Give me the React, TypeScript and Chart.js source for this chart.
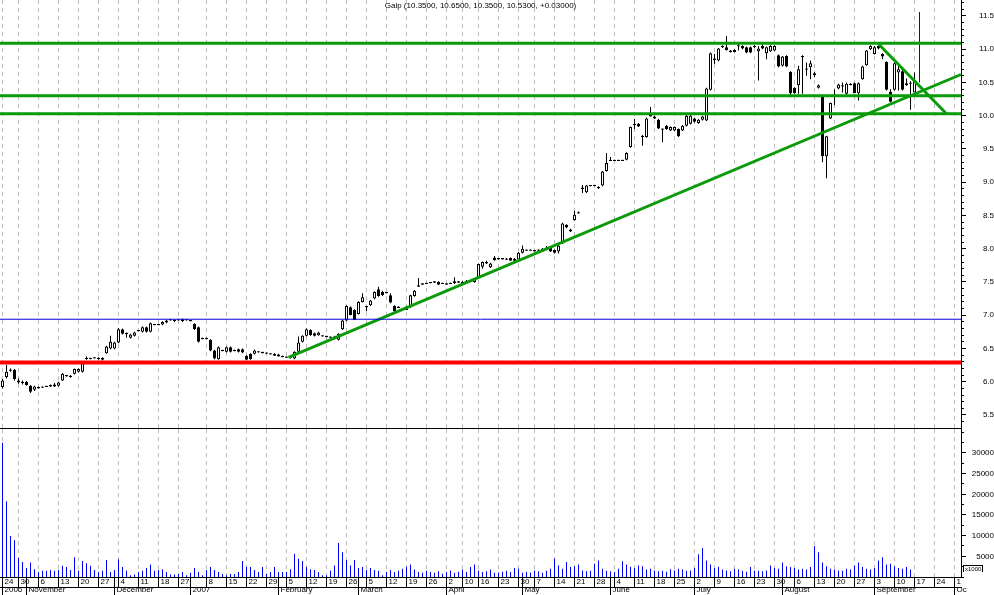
import React, { useEffect, useRef } from "react";
import { Chart, registerables } from "chart.js";

Chart.register(...registerables);

// ---------------- data ----------------
const TITLE = "Galp (10.3500, 10.6500, 10.3500, 10.5300, +0.03000)";
const FIRST_DAY = "2006-10-24";
const LAST_AXIS_DAY = "2007-10-01";
const HOLIDAYS = ["2006-12-25", "2006-12-26", "2007-01-01", "2007-04-06", "2007-04-09", "2007-05-01"];

// weekly date ticks (top row of the date axis)
const WEEK_STARTS = [
  "2006-10-24", "2006-10-30", "2006-11-06", "2006-11-13", "2006-11-20", "2006-11-27",
  "2006-12-04", "2006-12-11", "2006-12-18", "2006-12-27", "2007-01-08", "2007-01-15",
  "2007-01-22", "2007-01-29", "2007-02-05", "2007-02-12", "2007-02-19", "2007-02-26",
  "2007-03-05", "2007-03-12", "2007-03-19", "2007-03-26", "2007-04-02", "2007-04-10",
  "2007-04-16", "2007-04-23", "2007-04-30", "2007-05-07", "2007-05-14", "2007-05-21",
  "2007-05-28", "2007-06-04", "2007-06-11", "2007-06-18", "2007-06-25", "2007-07-02",
  "2007-07-09", "2007-07-16", "2007-07-23", "2007-07-30", "2007-08-06", "2007-08-13",
  "2007-08-20", "2007-08-27", "2007-09-03", "2007-09-10", "2007-09-17", "2007-09-24",
  "2007-10-01",
];
// month / year labels (bottom row of the date axis)
const MONTH_STARTS: [string, string][] = [
  ["2006-10-24", "2006"], ["2006-11-01", "November"], ["2006-12-01", "December"],
  ["2007-01-02", "2007"], ["2007-02-01", "February"], ["2007-03-01", "March"],
  ["2007-04-02", "April"], ["2007-05-02", "May"], ["2007-06-01", "June"],
  ["2007-07-02", "July"], ["2007-08-01", "August"], ["2007-09-03", "September"],
  ["2007-10-01", "Oc"],
];

// daily candles: [open, high, low, close]
const CANDLES: number[][] = [
  [5.92,6.04,5.90,6.02],[6.07,6.25,6.05,6.15],[6.18,6.20,6.15,6.17],[6.18,6.19,6.02,6.04],[6.02,6.05,5.97,5.99],[6.00,6.02,5.96,5.98],[6.00,6.01,5.94,5.95],[5.94,5.95,5.83,5.85],[5.88,5.94,5.86,5.93],[5.91,5.93,5.90,5.91],
  [5.92,5.93,5.91,5.92],[5.93,5.94,5.92,5.93],[5.93,5.96,5.92,5.95],[5.96,5.98,5.92,5.93],[5.94,6.00,5.93,5.99],[6.02,6.13,6.01,6.12],[6.09,6.10,6.08,6.09],[6.09,6.10,6.06,6.07],[6.12,6.20,6.11,6.19],[6.15,6.20,6.14,6.19],
  [6.15,6.30,6.14,6.29],[6.34,6.38,6.33,6.36],[6.35,6.36,6.34,6.35],[6.36,6.37,6.35,6.36],[6.34,6.37,6.33,6.36],[6.33,6.37,6.32,6.36],[6.43,6.54,6.42,6.53],[6.50,6.69,6.49,6.60],[6.50,6.60,6.49,6.59],[6.59,6.81,6.58,6.79],
  [6.79,6.80,6.71,6.72],[6.73,6.74,6.66,6.72],[6.66,6.72,6.65,6.71],[6.69,6.75,6.68,6.74],[6.77,6.78,6.76,6.77],[6.75,6.83,6.74,6.82],[6.82,6.83,6.74,6.75],[6.75,6.89,6.74,6.88],[6.86,6.87,6.85,6.86],[6.86,6.87,6.85,6.86],
  [6.86,6.91,6.85,6.90],[6.89,6.93,6.88,6.92],[6.93,6.94,6.92,6.93],[6.93,6.94,6.90,6.91],[6.93,6.94,6.92,6.93],[6.91,6.95,6.90,6.94],[6.93,6.94,6.92,6.93],[6.92,6.93,6.91,6.92],[6.87,6.88,6.78,6.79],[6.82,6.83,6.59,6.60],
  [6.65,6.66,6.64,6.65],[6.65,6.66,6.64,6.65],[6.63,6.64,6.46,6.47],[6.47,6.48,6.34,6.35],[6.34,6.53,6.33,6.52],[6.47,6.48,6.46,6.47],[6.45,6.53,6.44,6.52],[6.52,6.53,6.44,6.45],[6.47,6.48,6.46,6.47],[6.49,6.50,6.44,6.45],
  [6.49,6.50,6.43,6.44],[6.39,6.40,6.33,6.33],[6.42,6.43,6.33,6.34],[6.42,6.48,6.41,6.47],[6.45,6.46,6.44,6.45],[6.44,6.45,6.43,6.44],[6.43,6.44,6.42,6.43],[6.42,6.43,6.41,6.42],[6.42,6.43,6.39,6.39],[6.41,6.42,6.38,6.38],
  [6.38,6.39,6.37,6.38],[6.37,6.38,6.36,6.37],[6.36,6.39,6.35,6.38],[6.35,6.46,6.34,6.45],[6.45,6.68,6.44,6.59],[6.60,6.70,6.59,6.69],[6.69,6.80,6.68,6.79],[6.78,6.79,6.69,6.70],[6.73,6.74,6.68,6.69],[6.70,6.75,6.69,6.74],
  [6.69,6.70,6.68,6.69],[6.68,6.69,6.67,6.68],[6.67,6.68,6.66,6.67],[6.68,6.69,6.64,6.64],[6.63,6.73,6.62,6.72],[6.79,6.93,6.78,6.92],[6.92,7.15,6.91,7.14],[7.12,7.13,7.00,7.00],[7.08,7.09,6.93,6.93],[7.02,7.21,7.01,7.20],
  [7.20,7.33,7.19,7.27],[7.13,7.14,7.06,7.13],[7.15,7.23,7.14,7.22],[7.25,7.36,7.24,7.35],[7.39,7.43,7.28,7.29],[7.35,7.37,7.29,7.30],[7.34,7.35,7.33,7.34],[7.30,7.33,7.18,7.19],[7.14,7.15,7.05,7.06],[7.12,7.13,7.11,7.12],
  [7.09,7.10,7.08,7.09],[7.13,7.14,7.08,7.08],[7.12,7.31,7.11,7.30],[7.29,7.38,7.28,7.37],[7.44,7.56,7.43,7.44],[7.47,7.48,7.46,7.47],[7.48,7.49,7.47,7.48],[7.49,7.50,7.48,7.49],[7.50,7.51,7.49,7.50],[7.50,7.51,7.46,7.46],
  [7.48,7.49,7.47,7.48],[7.47,7.48,7.46,7.47],[7.48,7.49,7.47,7.48],[7.48,7.57,7.47,7.51],[7.50,7.51,7.49,7.50],[7.50,7.51,7.47,7.47],[7.52,7.53,7.48,7.48],[7.51,7.52,7.50,7.51],[7.50,7.56,7.49,7.55],[7.56,7.78,7.55,7.77],
  [7.73,7.81,7.70,7.80],[7.79,7.82,7.77,7.79],[7.72,7.79,7.71,7.78],[7.87,7.89,7.82,7.83],[7.85,7.86,7.84,7.85],[7.85,7.86,7.84,7.85],[7.85,7.86,7.83,7.84],[7.86,7.87,7.82,7.82],[7.85,7.86,7.81,7.82],[7.84,7.95,7.83,7.94],
  [7.94,8.05,7.93,8.00],[7.98,7.99,7.97,7.98],[7.98,7.99,7.97,7.98],[7.97,7.98,7.96,7.97],[7.98,7.99,7.97,7.98],[7.96,8.01,7.95,8.00],[8.01,8.04,8.00,8.01],[8.01,8.02,7.95,7.96],[7.98,7.99,7.93,7.94],[7.96,8.06,7.93,8.05],
  [8.08,8.39,8.07,8.38],[8.36,8.37,8.31,8.32],[8.29,8.30,8.25,8.26],[8.43,8.57,8.42,8.51],[8.54,8.56,8.53,8.54],[8.90,8.96,8.84,8.92],[8.85,8.96,8.84,8.95],[8.95,8.96,8.94,8.95],[8.95,8.96,8.94,8.95],[8.93,8.94,8.90,8.91],
  [8.95,9.17,8.94,9.16],[9.17,9.44,9.16,9.29],[9.33,9.38,9.32,9.33],[9.33,9.34,9.32,9.33],[9.33,9.34,9.32,9.33],[9.33,9.34,9.32,9.33],[9.34,9.45,9.33,9.44],[9.53,9.84,9.52,9.83],[9.87,9.95,9.80,9.87],[9.88,9.89,9.83,9.84],
  [9.68,9.71,9.55,9.70],[9.68,9.97,9.67,9.96],[10.00,10.13,9.99,10.00],[9.99,10.00,9.95,9.96],[9.94,9.95,9.80,9.81],[9.80,9.81,9.60,9.80],[9.85,9.86,9.79,9.80],[9.78,9.84,9.77,9.83],[9.78,9.84,9.77,9.83],[9.80,9.81,9.68,9.69],
  [9.78,9.86,9.77,9.85],[9.85,10.01,9.84,10.00],[9.88,10.01,9.87,10.00],[9.96,9.97,9.90,9.91],[9.89,9.95,9.88,9.94],[9.94,10.00,9.93,9.99],[9.93,10.42,9.92,10.41],[10.39,10.95,10.38,10.94],[10.85,10.93,10.78,10.85],[10.83,11.02,10.82,11.01],
  [11.04,11.06,11.02,11.04],[11.03,11.20,10.98,10.99],[10.96,10.99,10.95,10.98],[10.96,11.00,10.95,10.99],[11.05,11.10,10.98,11.05],[11.05,11.06,11.00,11.01],[11.03,11.04,10.94,10.95],[11.03,11.04,10.94,10.95],[11.04,11.06,11.02,11.04],[10.97,11.05,10.53,11.01],
  [11.05,11.08,11.00,11.01],[10.94,11.04,10.85,11.03],[10.97,11.06,10.96,11.05],[10.98,11.06,10.97,11.05],[10.91,10.92,10.73,10.74],[10.75,10.90,10.74,10.89],[10.90,10.91,10.73,10.74],[10.66,10.67,10.28,10.34],[10.42,10.43,10.33,10.34],[10.46,10.75,10.33,10.70],
  [10.89,10.91,10.33,10.89],[10.70,10.80,10.60,10.70],[10.73,10.83,10.55,10.79],[10.64,10.66,10.58,10.61],[10.42,10.47,10.41,10.46],[10.29,10.30,9.30,9.39],[9.39,9.70,9.06,9.69],[9.96,10.20,9.95,10.19],[10.31,10.40,10.16,10.31],[10.41,10.48,10.40,10.47],
  [10.45,10.50,10.35,10.45],[10.33,10.50,10.32,10.48],[10.47,10.49,10.46,10.47],[10.49,10.50,10.34,10.34],[10.34,10.50,10.23,10.49],[10.55,10.75,10.54,10.74],[10.76,10.99,10.75,10.98],[11.00,11.06,10.99,11.05],[10.93,11.05,10.92,11.03],[11.05,11.07,11.00,11.01],
  [10.93,10.94,10.85,10.89],[10.81,10.82,10.38,10.39],[10.36,10.40,10.20,10.21],[10.39,10.80,10.38,10.79],[10.65,10.78,10.38,10.70],[10.67,10.72,10.38,10.39],[10.49,10.56,10.45,10.46],[10.50,10.52,10.09,10.48],[10.35,10.65,10.35,10.53],
];

// daily volume, thousands
const VOLUME_K: number[] = [
  32.5,18.3,9.9,8.9,4.6,3.6,2.2,3.5,1.9,1.2, 1.5,1.5,1.7,1.5,1.7,2.7,2.4,1.7,4.8,1.5,
  3.9,3.3,2.7,1.7,1.2,1.5,4.1,1.2,1.7,4.3, 2.4,1.5,0.4,0.6,1.2,1.5,2.2,3.0,1.5,1.7,
  1.9,1.2,0.6,0.6,0.7,1.2,0.4,1.0,2.2,1.2, 0.4,1.7,2.4,1.7,1.2,0.7,0.4,0.7,0.7,1.2,
  3.9,2.4,2.4,1.7,1.2,2.4,0.7,1.2,2.4,1.2, 1.2,1.2,1.9,5.6,4.4,3.9,2.4,1.9,1.7,1.2,
  0.4,0.4,1.5,2.8,8.2,6.0,4.1,2.8,4.1,2.2, 2.4,1.7,2.2,1.7,1.5,0.4,1.2,1.7,1.2,1.5,
  2.0,2.5,3.0,1.8,1.2,1.0,1.5,1.2,1.0,1.4, 0.8,1.2,1.6,1.0,1.3,1.8,1.2,2.4,3.0,1.5,
  1.2,1.4,1.8,1.0,1.1,1.3,1.5,1.2,2.2,2.0, 1.0,1.2,1.1,1.6,1.4,1.0,1.5,2.0,4.5,2.8,
  2.0,3.6,2.4,2.6,3.0,1.6,1.4,1.5,3.2,4.0, 2.0,1.5,1.4,1.2,2.0,3.8,3.0,2.5,2.2,2.8,
  2.6,1.8,2.0,1.6,1.4,1.5,1.3,1.9,1.6,2.0, 1.8,1.5,1.6,2.2,5.5,7.0,4.0,3.0,2.2,2.5,
  1.8,1.6,1.4,2.0,1.8,1.5,1.3,2.4,1.6,1.5, 1.4,1.6,2.8,2.2,2.0,3.5,2.6,2.4,2.2,1.8,
  2.0,1.8,2.4,7.5,6.0,3.5,2.6,2.0,1.8,1.6, 1.5,2.0,1.8,2.8,3.5,2.4,2.0,1.8,2.2,4.0,
  4.8,3.0,3.2,2.6,2.2,2.0,2.4,1.8,
];

// drawn studies: [dayIndex, price]
const GREEN_LEVELS = [11.09, 10.30, 10.03];
const RED_LEVEL = 6.29;
const BLUE_LEVEL = 6.94;
const TREND_UP = [[71.5, 6.365], [239.6, 10.62]];
const TREND_DOWN = [[219, 11.08], [236.0, 10.03]];
const MARKER = [[229.25, 10.5], [229.25, 11.56]];

const PRICE_LABELS = [5.5, 6.0, 6.5, 7.0, 7.5, 8.0, 8.5, 9.0, 9.5, 10.0, 10.5, 11.0, 11.5];
const VOLUME_LABELS = [5000, 10000, 15000, 20000, 25000, 30000];

// ---------------- axis geometry ----------------
const X_MIN = -0.625;
const X_MAX = 239.625;
const P_MIN = 5.3045;
const P_MAX = 11.7406;
const V_MAX = 35800;
const GRID = "#bcbcbc";
const FONT = '"Liberation Sans", Arial, sans-serif';

function tradingDays(): string[] {
  const out: string[] = [];
  const d = new Date(FIRST_DAY + "T12:00:00Z");
  const end = new Date(LAST_AXIS_DAY + "T12:00:00Z");
  while (d <= end) {
    const wd = d.getUTCDay();
    const s = d.toISOString().slice(0, 10);
    if (wd !== 0 && wd !== 6 && !HOLIDAYS.includes(s)) out.push(s);
    d.setUTCDate(d.getUTCDate() + 1);
  }
  return out;
}
const DAYS = tradingDays();
const idxOf = (s: string) => DAYS.indexOf(s);

const WEEK_IDX = WEEK_STARTS.map(idxOf);
const WEEK_SET = new Set(WEEK_IDX);
const DAY_LABEL = new Map<number, string>(WEEK_STARTS.map((s) => [idxOf(s), String(Number(s.slice(8)))]));
const MONTH_IDX = MONTH_STARTS.map(([s]) => idxOf(s));
const MONTH_LABEL = new Map<number, string>(MONTH_STARTS.map(([s, l]) => [idxOf(s), l]));
const DAY_AXIS_IDX = Array.from(new Set([...WEEK_IDX, ...MONTH_IDX])).sort((a, b) => a - b);

const stepTicks = (from: number, to: number, step: number) => {
  const t: number[] = [];
  for (let v = from; v <= to + 1e-9; v += step) t.push(Math.round(v * 1000) / 1000);
  return t;
};

const seg = (pts: number[][], color: string, width: number) => ({
  type: "line" as const,
  data: pts.map(([x, y]) => ({ x, y })),
  borderColor: color,
  borderWidth: width,
  pointRadius: 0,
  pointHoverRadius: 0,
  fill: false,
  tension: 0,
  order: 0,
  xAxisID: "x",
  yAxisID: "y",
});

const hline = (v: number, color: string, width: number) => seg([[X_MIN, v], [X_MAX, v]], color, width);

function priceConfig(): any {
  const wicks = CANDLES.map(([, h, l], i) => ({ x: i, y: [l, h] }));
  const bodies = CANDLES.map(([o, , , c], i) => {
    let lo = Math.min(o, c);
    let hi = Math.max(o, c);
    if (hi - lo < 0.02) {
      const m = (hi + lo) / 2;
      lo = m - 0.01;
      hi = m + 0.01;
    }
    return { x: i, y: [lo, hi] };
  });
  const bodyColors = CANDLES.map(([o, , , c]) => (c > o ? "#ffffff" : "#000000"));
  return {
    type: "bar",
    data: {
      datasets: [
        ...GREEN_LEVELS.map((v) => hline(v, "#0a9a0a", 3)),
        hline(RED_LEVEL, "#ff0000", 4),
        hline(BLUE_LEVEL, "#0000e0", 1),
        seg(TREND_UP, "#0a9a0a", 3),
        seg(TREND_DOWN, "#0a9a0a", 3),
        seg(MARKER, "#0000ff", 1),
        {
          type: "bar", data: bodies, backgroundColor: bodyColors, borderColor: "#000000",
          borderWidth: 1, borderSkipped: false, barThickness: 3, grouped: false, inflateAmount: 0, order: 1,
        },
        {
          type: "bar", data: wicks, backgroundColor: "#000000", borderWidth: 0,
          barThickness: 1, grouped: false, inflateAmount: 0, order: 2,
        },
      ],
    },
    options: {
      responsive: false,
      animation: false,
      devicePixelRatio: 1,
      events: [],
      layout: { padding: { left: 0, right: 0, top: 0, bottom: 1 } },
      plugins: { legend: { display: false }, tooltip: { enabled: false }, title: { display: false } },
      scales: {
        x: {
          type: "linear", min: X_MIN, max: X_MAX, offset: false, position: "bottom",
          afterBuildTicks: (s: any) => { s.ticks = WEEK_IDX.map((v) => ({ value: v })); },
          afterFit: (s: any) => { s.height = 0; s.paddingLeft = 0; s.paddingRight = 0; },
          ticks: { display: false, autoSkip: false },
          grid: { offset: false, drawTicks: false, color: GRID, lineWidth: 1 },
          border: { display: true, color: "#000000", width: 1, dash: [4, 4] },
        },
        yMinor: {
          type: "linear", axis: "y", position: "right", min: P_MIN, max: P_MAX, weight: -1,
          afterBuildTicks: (s: any) => { s.ticks = stepTicks(5.4, 11.7, 0.1).map((v) => ({ value: v })); },
          afterFit: (s: any) => { s.width = 0; s.paddingTop = 0; s.paddingBottom = 0; },
          ticks: { display: false, autoSkip: false },
          grid: { drawOnChartArea: false, drawTicks: true, tickLength: 3, tickColor: "#000000", tickWidth: 1 },
          border: { display: false },
        },
        y: {
          type: "linear", position: "right", min: P_MIN, max: P_MAX, weight: 0,
          afterBuildTicks: (s: any) => { s.ticks = PRICE_LABELS.map((v) => ({ value: v })); },
          afterFit: (s: any) => { s.width = 33; s.paddingTop = 0; s.paddingBottom = 0; },
          ticks: {
            autoSkip: false, color: "#000000", font: { size: 8, family: FONT }, padding: 8,
            crossAlign: "far", callback: (v: any) => Number(v).toFixed(1),
          },
          grid: { drawOnChartArea: false, drawTicks: true, tickLength: 5, tickColor: "#000000", tickWidth: 1 },
          border: { display: true, color: "#000000", width: 1 },
        },
      },
    },
  };
}

function volumeConfig(): any {
  return {
    type: "bar",
    data: {
      datasets: [
        {
          type: "bar",
          data: VOLUME_K.map((v, i) => ({ x: i, y: v * 1000 })),
          backgroundColor: "#0000ff", borderWidth: 0, barThickness: 1, grouped: false, inflateAmount: 0,
          xAxisID: "x", yAxisID: "y",
        },
      ],
    },
    options: {
      responsive: false,
      animation: false,
      devicePixelRatio: 1,
      events: [],
      layout: { padding: 0 },
      plugins: { legend: { display: false }, tooltip: { enabled: false } },
      scales: {
        x: {
          type: "linear", min: X_MIN, max: X_MAX, offset: false, position: "bottom", weight: 0,
          afterBuildTicks: (s: any) => { s.ticks = DAY_AXIS_IDX.map((v) => ({ value: v })); },
          afterFit: (s: any) => { s.height = 10; s.paddingLeft = 0; s.paddingRight = 0; },
          ticks: {
            autoSkip: false, maxRotation: 0, minRotation: 0, align: "start", labelOffset: 2, padding: -10,
            color: "#000000", font: { size: 8, family: FONT },
            callback: (v: any) => DAY_LABEL.get(Number(v)) ?? "",
          },
          grid: {
            offset: false, drawOnChartArea: true, drawTicks: true, tickLength: 10, tickColor: "#000000",
            color: (ctx: any) => (ctx.tick && WEEK_SET.has(ctx.tick.value) ? GRID : "rgba(0,0,0,0)"),
          },
          border: { display: true, color: "#000000", width: 1, dash: [4, 4] },
        },
        xm: {
          type: "linear", axis: "x", min: X_MIN, max: X_MAX, offset: false, position: "bottom", weight: 1,
          afterBuildTicks: (s: any) => { s.ticks = MONTH_IDX.map((v) => ({ value: v })); },
          afterFit: (s: any) => { s.height = 8; s.paddingLeft = 0; s.paddingRight = 0; },
          ticks: {
            autoSkip: false, maxRotation: 0, minRotation: 0, align: "start", labelOffset: 2, padding: -10,
            color: "#000000", font: { size: 8, family: FONT },
            callback: (v: any) => MONTH_LABEL.get(Number(v)) ?? "",
          },
          grid: { offset: false, drawOnChartArea: false, drawTicks: true, tickLength: 8, tickColor: "#000000" },
          border: { display: true, color: "#000000", width: 1 },
        },
        yMinor: {
          type: "linear", axis: "y", position: "right", min: 0, max: V_MAX, weight: -1,
          afterBuildTicks: (s: any) => { s.ticks = stepTicks(0, 35000, 2500).map((v) => ({ value: v })); },
          afterFit: (s: any) => { s.width = 0; s.paddingTop = 0; s.paddingBottom = 0; },
          ticks: { display: false, autoSkip: false },
          grid: { drawOnChartArea: false, drawTicks: true, tickLength: 3, tickColor: "#000000" },
          border: { display: false },
        },
        y: {
          type: "linear", position: "right", min: 0, max: V_MAX, weight: 0,
          afterBuildTicks: (s: any) => { s.ticks = VOLUME_LABELS.map((v) => ({ value: v })); },
          afterFit: (s: any) => { s.width = 33; s.paddingTop = 0; s.paddingBottom = 0; },
          ticks: {
            autoSkip: false, color: "#000000", font: { size: 8, family: FONT }, padding: 2,
            crossAlign: "far", callback: (v: any) => String(v),
          },
          grid: { drawOnChartArea: false, drawTicks: true, tickLength: 5, tickColor: "#000000" },
          border: { display: true, color: "#000000", width: 1 },
        },
      },
    },
  };
}

export default function App() {
  const priceRef = useRef<HTMLCanvasElement>(null);
  const volRef = useRef<HTMLCanvasElement>(null);

  useEffect(() => {
    document.body.style.margin = "0";
    const a = new Chart(priceRef.current as HTMLCanvasElement, priceConfig());
    const b = new Chart(volRef.current as HTMLCanvasElement, volumeConfig());
    return () => {
      a.destroy();
      b.destroy();
    };
  }, []);

  return (
    <div style={{ position: "relative", width: 994, height: 595, background: "#ffffff", overflow: "hidden" }}>
      <canvas ref={priceRef} width={994} height={429} style={{ position: "absolute", left: 0, top: 0 }} />
      <canvas ref={volRef} width={994} height={166} style={{ position: "absolute", left: 0, top: 429 }} />
      <div
        style={{
          position: "absolute", left: 0, top: 1, width: 961, textAlign: "center",
          fontFamily: FONT, fontSize: 8, lineHeight: "10px", color: "#000", whiteSpace: "nowrap",
        }}
      >
        {TITLE}
      </div>
      <div
        style={{
          position: "absolute", left: 963, top: 565, fontFamily: FONT, fontSize: 6,
          lineHeight: "6px", color: "#000", whiteSpace: "nowrap",
          borderLeft: "1px solid #000", borderTop: "1px solid #000", borderRight: "1px solid #000",
          padding: "0 1px",
        }}
      >
        x1000
      </div>
    </div>
  );
}
